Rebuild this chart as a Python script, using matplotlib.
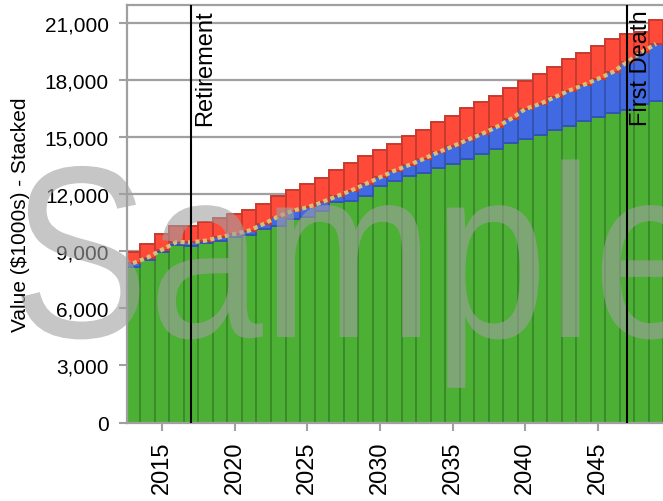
import matplotlib
matplotlib.use("Agg")
import matplotlib.pyplot as plt
from matplotlib.ticker import FuncFormatter, FixedLocator
from matplotlib.textpath import TextPath
from matplotlib.patches import PathPatch
from matplotlib.font_manager import FontProperties
from matplotlib.transforms import Affine2D, IdentityTransform

plt.rcParams['font.family'] = ['Liberation Sans', 'DejaVu Sans']

years = list(range(2013, 2050))

# Stacked components, in $1000s
green_vals = [8180, 8560, 8990, 9320, 9300, 9450, 9550, 9750, 9870, 10200,
              10360, 10710, 10800, 11150, 11590, 11680, 11940, 12460, 12700, 12950,
              13150, 13400, 13610, 13870, 14130, 14390, 14710, 14900, 15150, 15400,
              15620, 15850, 16060, 16290, 16450, 16760, 16900]
blue_vals = [200, 120, 100, 180, 180, 120, 200, 170, 230, 250,
             480, 440, 520, 440, 310, 520, 610, 440, 550, 600,
             720, 820, 920, 1000, 1050, 1150, 1260, 1600, 1610, 1710,
             1840, 1910, 2020, 2140, 2510, 2720, 3020]
red_vals = [610, 710, 830, 850, 870, 970, 1010, 1050, 1090, 1050,
            1100, 1100, 1230, 1280, 1390, 1440, 1490, 1460, 1410, 1550,
            1540, 1610, 1620, 1680, 1700, 1660, 1650, 1460, 1580, 1580,
            1670, 1690, 1750, 1750, 1490, 1070, 1280]

ytick_vals = [0, 3000, 6000, 9000, 12000, 15000, 18000, 21000]
xtick_vals = [2015, 2020, 2025, 2030, 2035, 2040, 2045]
retirement_year = 2017
first_death_year = 2047

W, H = 663, 502
fig = plt.figure(figsize=(W / 100, H / 100), dpi=100)
ax = fig.add_axes([127 / W, 78.5 / H, 1 - 127 / W, 417.5 / H])

grid_c = '#a0a0a0'
for v in ytick_vals[1:]:
    ax.axhline(v, color=grid_c, lw=1.6, zorder=0)

green_c, green_e = '#4cb034', '#3a8a2a'
blue_c, blue_e = '#4169e1', '#3454b4'
red_c, red_e = '#ff4a3a', '#c83a2e'

bottom_blue = green_vals
bottom_red = [g + b for g, b in zip(green_vals, blue_vals)]

ax.bar(years, green_vals, width=1.0, color=green_c, edgecolor=green_e, lw=1.4, zorder=2)
ax.bar(years, blue_vals, width=1.0, bottom=bottom_blue, color=blue_c,
       edgecolor=blue_e, lw=1.4, zorder=2)
ax.bar(years, red_vals, width=1.0, bottom=bottom_red, color=red_c,
       edgecolor=red_e, lw=1.4, zorder=2)

ax.plot(years, bottom_red, color='#d6bf78', lw=3, ls=(0, (1, 0.8)),
        solid_capstyle='butt', zorder=3)

# Watermark, drawn above the bars but below the marker lines
wm_path = TextPath((0, 0), 'Sample', size=1,
                   prop=FontProperties(family='Liberation Sans'))
wm_tf = Affine2D().scale(205, 245).translate(12, H - 338)
wm = PathPatch(wm_tf.transform_path(wm_path), facecolor='#a0a0a0', edgecolor='none',
               alpha=0.6, zorder=3.5, clip_on=False)
wm.set_transform(IdentityTransform())
ax.add_artist(wm)

for yr, lab in [(retirement_year, 'Retirement'), (first_death_year, 'First Death')]:
    ax.axvline(yr, color='black', lw=1.5, zorder=4)
    ax.text(yr + 0.22, 21750, lab, rotation=90, ha='left', va='top',
            fontsize=17, color='black', zorder=5)

ax.set_xlim(2012.59, 2049.48)
ax.set_ylim(0, 21970)

ax.yaxis.set_major_locator(FixedLocator(ytick_vals))
ax.yaxis.set_major_formatter(FuncFormatter(lambda v, p: f'{int(v):,}'))
ax.xaxis.set_major_locator(FixedLocator(xtick_vals))
ax.tick_params(axis='both', colors=grid_c, labelcolor='black',
               length=6, width=1.5, direction='out')
ax.tick_params(axis='y', labelsize=15, pad=7)
ax.tick_params(axis='x', labelsize=17, pad=7)
plt.setp(ax.get_xticklabels(), rotation=90)

for s in ['left', 'bottom', 'top']:
    ax.spines[s].set_color(grid_c)
    ax.spines[s].set_linewidth(1.6)
ax.spines['right'].set_visible(False)

ax.set_ylabel('Value ($1000s) - Stacked', fontsize=15, labelpad=11)

fig.savefig('out.png', dpi=100)
